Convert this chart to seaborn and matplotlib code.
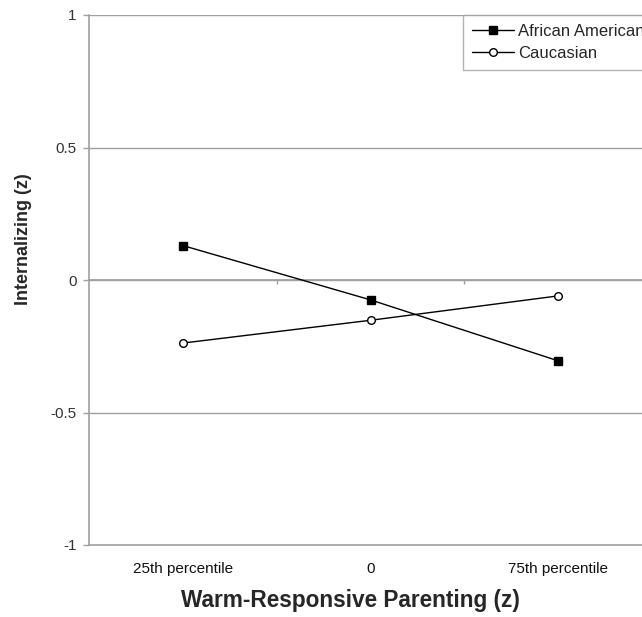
import matplotlib
matplotlib.use("Agg")
import matplotlib.pyplot as plt
import seaborn as sns
import pandas as pd
from matplotlib.lines import Line2D

categories = ["25th percentile", "0", "75th percentile"]
groups = ["African American", "Caucasian"]
african_american = [0.13, -0.075, -0.305]
caucasian = [-0.238, -0.152, -0.06]
y_ticks = [-1, -0.5, 0, 0.5, 1]
y_tick_labels = ["-1", "-0.5", "0", "0.5", "1"]

rows = []
for g, vals in zip(groups, [african_american, caucasian]):
    for i, (c, v) in enumerate(zip(categories, vals)):
        rows.append({"group": g, "pos": i, "cat": c, "value": v})
df = pd.DataFrame(rows)

sns.set_theme(style="white")
plt.rcParams["font.family"] = ["Liberation Sans", "DejaVu Sans"]

W, H = 642, 617
fig = plt.figure(figsize=(W / 100, H / 100), dpi=100)
left, right, top, bottom = 89, 652, 15, 545
ax = fig.add_axes([left / W, (H - bottom) / H, (right - left) / W, (bottom - top) / H])

grid_col = "#a0a0a0"
ms = 5.5
sns.lineplot(data=df, x="pos", y="value", hue="group", style="group",
             palette={"African American": "black", "Caucasian": "black"},
             markers={"African American": "s", "Caucasian": "o"},
             dashes=False, linewidth=1.0, markersize=ms, ax=ax, legend=False,
             zorder=3)
for line in ax.lines:
    line.set_markeredgecolor("black")
    line.set_markeredgewidth(1.0)
lines = ax.lines
lines[0].set_markerfacecolor("black")
lines[1].set_markerfacecolor("white")

ax.set_xlim(-0.5, 2.5)
ax.set_ylim(-1, 1)
ax.set_yticks(y_ticks)
ax.set_yticklabels(y_tick_labels, fontsize=11, color="#333333")
ax.set_xticks(range(len(categories)))
ax.set_xticklabels(categories, fontsize=11, color="#111111")
ax.tick_params(axis="x", length=0, pad=12)
ax.tick_params(axis="y", length=4, width=1, color=grid_col, direction="out", pad=5, left=True)

for yv in [0.5, 0, -0.5, 1]:
    ax.axhline(yv, color=grid_col, linewidth=1.0, zorder=1)

for s in ["top", "right"]:
    ax.spines[s].set_visible(False)
ax.spines["left"].set_color(grid_col)
ax.spines["bottom"].set_color(grid_col)
ax.spines["left"].set_linewidth(1.2)
ax.spines["bottom"].set_linewidth(1.2)

# category axis crossing at zero with boundary ticks pointing down
sec = ax.secondary_xaxis(0.5)
sec.set_xticks([0.5, 1.5])
sec.set_xticklabels([])
sec.tick_params(axis="x", length=3, width=1, color=grid_col, direction="in")
for sp in sec.spines.values():
    sp.set_color(grid_col)

ax.set_xlabel("Warm-Responsive Parenting (z)", fontsize=16.3, fontweight="bold")
ax.xaxis.set_label_coords((350 - left) / (right - left), -(600 - bottom) / (bottom - top))
ax.xaxis.label.set_verticalalignment("center")
ax.set_ylabel("Internalizing (z)", fontsize=13, fontweight="bold")
ax.yaxis.set_label_coords(-(89 - 24) / (right - left), (bottom - 239) / (bottom - top))
ax.yaxis.label.set_verticalalignment("center")

handles = [
    Line2D([], [], color="black", lw=1.0, marker="s", markersize=ms, markerfacecolor="black"),
    Line2D([], [], color="black", lw=1.0, marker="o", markersize=ms, markerfacecolor="white"),
]
leg = ax.legend(handles, groups, loc="upper left",
                bbox_to_anchor=(463 / W, (H - 15) / H), bbox_transform=fig.transFigure,
                fontsize=12, frameon=True, fancybox=False, handlelength=2.5,
                handletextpad=0.25, borderpad=0.55, labelspacing=0.4, borderaxespad=0)
leg.get_frame().set_edgecolor(grid_col)
leg.get_frame().set_linewidth(1.0)

fig.savefig("out.png", dpi=100)
